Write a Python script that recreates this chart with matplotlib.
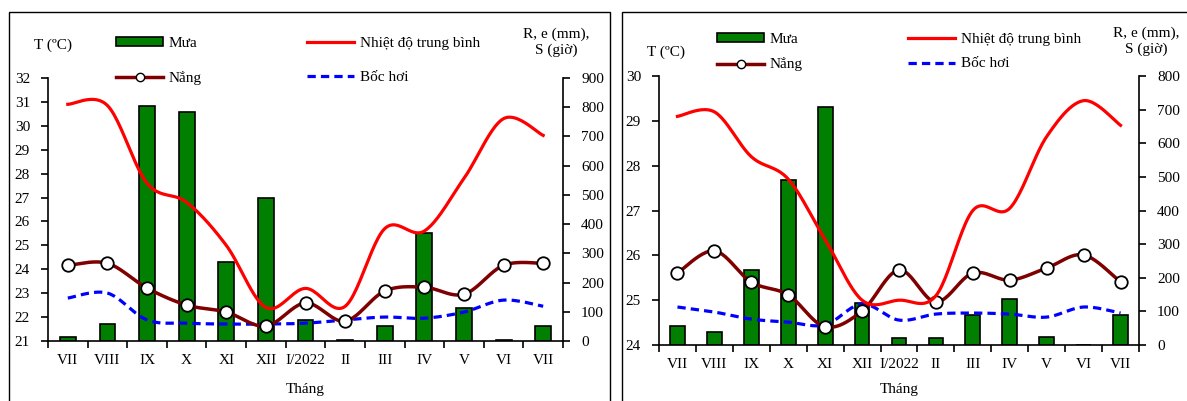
import numpy as np
import matplotlib
matplotlib.use("Agg")
import matplotlib.pyplot as plt
from matplotlib.lines import Line2D
from matplotlib.patches import Patch, Rectangle

plt.rcParams['font.family'] = ['Liberation Serif', 'DejaVu Serif']
plt.rcParams['font.size'] = 11

# du lieu
thang = ["VII", "VIII", "IX", "X", "XI", "XII", "I/2022", "II", "III", "IV", "V", "VI", "VII"]

# bieu do trai
mua1 = [15, 58, 805, 784, 272, 488, 72, 3, 51, 368, 113, 3, 51]
nang1 = [259, 266, 181, 123, 99, 51, 130, 68, 171, 184, 160, 259, 266]
bochoi1 = [147, 164, 72, 61, 58, 58, 61, 72, 82, 78, 99, 140, 119]
nhietdo1 = [30.9, 30.85, 27.6, 26.8, 25.0, 22.4, 23.2, 22.45, 25.7, 25.6, 27.8, 30.3, 29.6]

# bieu do phai
mua2 = [56, 39, 223, 491, 708, 125, 20, 20, 89, 137, 24, 0, 89]
nang2 = [214, 280, 187, 149, 54, 101, 223, 128, 214, 193, 229, 268, 187]
bochoi2 = [113, 98, 77, 68, 60, 122, 74, 92, 95, 92, 83, 113, 95]
nhietdo2 = [29.1, 29.2, 28.2, 27.7, 26.35, 25.0, 25.0, 25.1, 27.0, 27.05, 28.65, 29.45, 28.9]

W, H = 1187, 401


def smooth(y, n=25):  # duong cong kieu Excel (Bezier qua cac diem)
    x = np.arange(len(y)) + 0.5
    pts = np.column_stack([x, np.asarray(y, float)])
    pad = np.vstack([pts[0], pts, pts[-1]])
    out = []
    t = np.linspace(0, 1, n)[:, None]
    for i in range(len(pts) - 1):
        p0, p1, p2, p3 = pad[i], pad[i + 1], pad[i + 2], pad[i + 3]
        c1 = p1 + (p2 - p0) / 6.0
        c2 = p2 - (p3 - p1) / 6.0
        seg = (1 - t) ** 3 * p1 + 3 * (1 - t) ** 2 * t * c1 + 3 * (1 - t) * t ** 2 * c2 + t ** 3 * p2
        out.append(seg)
    return np.vstack(out)


def px(x0, y0, x1, y1):  # pixel -> toa do figure
    return [x0 / W, 1 - y1 / H, (x1 - x0) / W, (y1 - y0) / H]


def ve(fig, box, mua, nang, bochoi, nhietdo, tlim, rlim, rstep,
       leg_x, leg_top, leg_sp, t_lbl, r_lbl):
    ax = fig.add_axes(px(*box))
    ax2 = ax.twinx()
    x = np.arange(len(thang)) + 0.5

    ax2.bar(x, mua, width=0.4, color='#007f00', edgecolor='black', linewidth=1.2, zorder=1)
    s = smooth(bochoi)
    ax2.plot(s[:, 0], s[:, 1], color='#0000ff', lw=2.3, ls=(0, (2.6, 1.6)), zorder=2)
    s = smooth(nang)
    ax2.plot(s[:, 0], s[:, 1], color='#7f0000', lw=2.5, zorder=3)
    ax2.plot(x, nang, ls='none', marker='o', ms=9, mfc='white', mec='black', mew=1.3, zorder=4)
    s = smooth(nhietdo)
    ax.plot(s[:, 0], s[:, 1], color='#ff0000', lw=2.3)

    ax.set_zorder(ax2.get_zorder() + 1)
    ax.patch.set_visible(False)

    ax.set_xlim(0, len(thang))
    ax.set_ylim(*tlim)
    ax.set_yticks(np.arange(tlim[0], tlim[1] + 1, 1))
    ax2.set_ylim(*rlim)
    ax2.set_yticks(np.arange(rlim[0], rlim[1] + 1, rstep))
    ax.set_xticks(np.arange(0, len(thang) + 1))
    ax.set_xticklabels([])
    ax.set_xticks(x, minor=True)
    ax.set_xticklabels(thang, minor=True)
    ax.tick_params(axis='x', which='minor', length=0, pad=9)
    ax.tick_params(axis='x', which='major', length=5, width=1.2)
    ax.tick_params(axis='y', length=5, width=1.2, pad=8)
    ax2.tick_params(axis='y', length=5, width=1.2, pad=8)
    for a in (ax, ax2):
        a.spines['top'].set_visible(False)
        for sp in a.spines.values():
            sp.set_linewidth(1.2)
    ax.spines['right'].set_visible(False)
    ax2.spines['left'].set_visible(False)
    ax2.spines['bottom'].set_visible(False)

    cx = (box[0] + box[2]) / 2
    fig.text(cx / W, 1 - 390 / H, "Tháng", ha='center', va='center')
    fig.text(t_lbl[0] / W, 1 - t_lbl[1] / H, "T (ºC)", ha='center', va='center')
    fig.text(r_lbl[0] / W, 1 - r_lbl[1] / H, "R, e (mm),\nS (giờ)", ha='center', va='center',
             linespacing=1.25, multialignment='center')

    handles = [Patch(facecolor='#007f00', edgecolor='black', linewidth=1.2),
               Line2D([], [], color='#7f0000', lw=2.5, marker='o', ms=6, mfc='white', mec='black'),
               Line2D([], [], color='#ff0000', lw=2.3),
               Line2D([], [], color='#0000ff', lw=2.3, ls=(0, (2.6, 1.6)))]
    labels = ["Mưa", "Nắng", "Nhiệt độ trung bình", "Bốc hơi"]
    fig.legend(handles, labels, ncol=2, loc='upper left', frameon=False,
               bbox_to_anchor=(leg_x / W, 1 - leg_top / H), borderpad=0, borderaxespad=0,
               handlelength=3.1, handleheight=0.5, handletextpad=0.35,
               columnspacing=6.9, labelspacing=leg_sp)


fig = plt.figure(figsize=(W / 100, H / 100), dpi=100)

# khung
fig.add_artist(Rectangle((9 / W, -0.1), (610 - 9) / W, 1.1 - 12 / H, transform=fig.transFigure,
                         fill=False, edgecolor='black', linewidth=1.0))
fig.add_artist(Rectangle((622 / W, -0.1), 0.6, 1.1 - 12 / H, transform=fig.transFigure,
                         fill=False, edgecolor='black', linewidth=1.0))

ve(fig, (48, 78, 563, 341), mua1, nang1, bochoi1, nhietdo1, (21, 32), (0, 900), 100,
   116, 37, 1.35, (53, 45), (556, 42))
ve(fig, (659, 76, 1139, 345), mua2, nang2, bochoi2, nhietdo2, (24, 30), (0, 800), 100,
   717, 33, 0.75, (666, 52), (1146, 41))

fig.savefig("out.png", dpi=100)
